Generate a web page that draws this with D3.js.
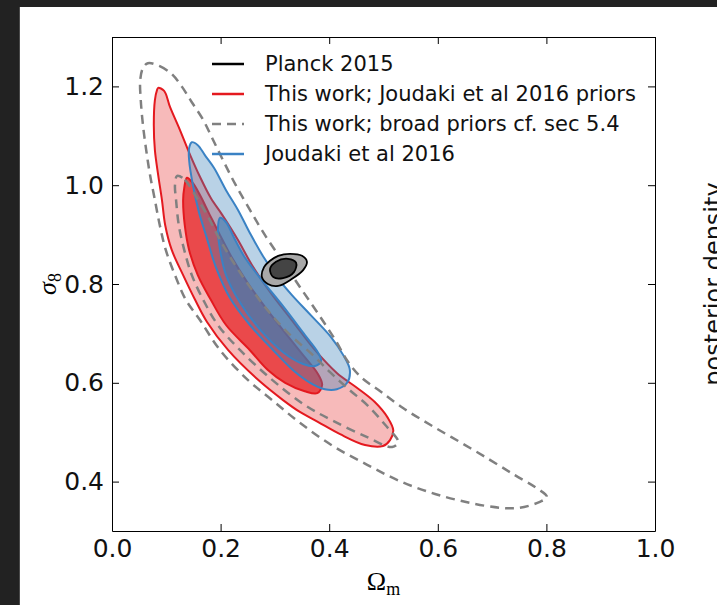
<!DOCTYPE html>
<html>
<head>
<meta charset="utf-8">
<script src="https://cdn.jsdelivr.net/npm/d3@7"></script>
<style>
  body { margin: 0; background: #fff; }
  svg { display: block; }
</style>
</head>
<body>
<div id="chart"></div>
<script>
// Contour outlines, as [Omega_m, sigma_8]
const planck2s = [[0.276,0.814],[0.280,0.834],[0.291,0.847],[0.306,0.857],[0.328,0.861],[0.350,0.857],
  [0.359,0.845],[0.352,0.828],[0.331,0.810],[0.306,0.796],[0.287,0.800]];
const planck1s = [[0.291,0.830],[0.302,0.845],[0.324,0.851],[0.339,0.843],[0.335,0.824],[0.315,0.812],[0.297,0.814]];

const thisWork2s = [[0.085,1.197],[0.096,1.191],[0.107,1.158],[0.125,1.112],[0.144,1.061],[0.162,1.017],
  [0.182,0.974],[0.203,0.940],[0.232,0.889],[0.258,0.838],[0.291,0.784],[0.331,0.727],[0.374,0.666],
  [0.414,0.620],[0.451,0.590],[0.484,0.561],[0.508,0.529],[0.518,0.504],[0.512,0.484],[0.499,0.472],
  [0.466,0.474],[0.420,0.496],[0.379,0.521],[0.346,0.541],[0.315,0.565],[0.269,0.606],[0.214,0.666],
  [0.175,0.723],[0.153,0.768],[0.131,0.818],[0.110,0.869],[0.098,0.919],[0.092,0.970],[0.085,1.021],
  [0.079,1.071],[0.077,1.122],[0.079,1.172],[0.083,1.193]];
const thisWork1s = [[0.138,1.015],[0.149,1.004],[0.162,0.980],[0.180,0.940],[0.199,0.899],[0.221,0.853],
  [0.250,0.802],[0.282,0.753],[0.319,0.701],[0.355,0.652],[0.378,0.620],[0.387,0.596],[0.378,0.579],
  [0.355,0.583],[0.319,0.600],[0.287,0.626],[0.254,0.666],[0.210,0.717],[0.182,0.768],[0.158,0.818],
  [0.142,0.869],[0.134,0.919],[0.131,0.970],[0.133,0.994]];

const broad2s = [[0.066,1.247],[0.088,1.241],[0.110,1.225],[0.129,1.199],[0.147,1.168],[0.168,1.132],
  [0.186,1.092],[0.206,1.047],[0.228,1.000],[0.254,0.950],[0.284,0.895],[0.315,0.845],[0.346,0.794],
  [0.379,0.741],[0.411,0.687],[0.435,0.642],[0.460,0.610],[0.494,0.583],[0.536,0.549],[0.586,0.515],
  [0.641,0.480],[0.696,0.444],[0.742,0.413],[0.779,0.389],[0.801,0.369],[0.788,0.359],[0.751,0.347],
  [0.715,0.347],[0.659,0.357],[0.595,0.375],[0.530,0.401],[0.470,0.434],[0.407,0.472],[0.346,0.519],
  [0.295,0.565],[0.250,0.606],[0.199,0.666],[0.162,0.727],[0.136,0.768],[0.116,0.818],[0.099,0.869],
  [0.088,0.919],[0.079,0.970],[0.070,1.021],[0.063,1.071],[0.057,1.122],[0.053,1.172],[0.052,1.213],
  [0.057,1.237]];
const broad1s = [[0.120,1.019],[0.134,1.011],[0.153,0.980],[0.175,0.940],[0.199,0.889],[0.227,0.838],
  [0.258,0.788],[0.291,0.741],[0.328,0.697],[0.370,0.656],[0.401,0.622],[0.438,0.585],[0.470,0.555],
  [0.503,0.515],[0.527,0.480],[0.516,0.470],[0.470,0.490],[0.407,0.523],[0.355,0.555],[0.295,0.606],
  [0.236,0.666],[0.195,0.717],[0.168,0.768],[0.147,0.818],[0.133,0.869],[0.123,0.919],[0.118,0.970],
  [0.116,1.000]];

const joudaki2s = [[0.147,1.087],[0.158,1.081],[0.171,1.061],[0.188,1.035],[0.210,0.990],[0.232,0.950],
  [0.256,0.899],[0.280,0.853],[0.304,0.814],[0.331,0.778],[0.366,0.737],[0.403,0.693],[0.427,0.654],
  [0.438,0.626],[0.433,0.600],[0.414,0.587],[0.392,0.587],[0.365,0.600],[0.333,0.626],[0.297,0.666],
  [0.254,0.717],[0.217,0.772],[0.192,0.832],[0.173,0.899],[0.160,0.946],[0.149,1.000],[0.142,1.051],
  [0.142,1.075]];
const joudaki1s = [[0.199,0.934],[0.210,0.925],[0.225,0.893],[0.245,0.853],[0.276,0.808],[0.315,0.755],
  [0.355,0.697],[0.379,0.662],[0.385,0.644],[0.374,0.634],[0.352,0.638],[0.315,0.662],[0.273,0.707],
  [0.236,0.762],[0.210,0.818],[0.199,0.869],[0.195,0.909]];

const xTicks = [0.0, 0.2, 0.4, 0.6, 0.8, 1.0];
const yTicks = [0.4, 0.6, 0.8, 1.0, 1.2];
const legendLabels = ["Planck 2015", "This work; Joudaki et al 2016 priors",
  "This work; broad priors cf. sec 5.4", "Joudaki et al 2016"];

const W = 717, H = 605;
const plot = { left: 112, right: 655, top: 37, bottom: 531 };

const svg = d3.select("#chart").append("svg")
    .attr("width", W)
    .attr("height", H);

// page background and the dark frame of the screenshot
svg.append("rect").attr("width", W).attr("height", H).attr("fill", "#fff");
svg.append("rect").attr("width", W).attr("height", 7).attr("fill", "#222");
svg.append("rect").attr("width", 20).attr("height", H).attr("fill", "#222");
svg.append("rect").attr("x", 19).attr("y", 7).attr("width", 1).attr("height", H).attr("fill", "#4a4a4a");

var x = d3.scaleLinear().domain([0, 1]).range([plot.left, plot.right]);
var y = d3.scaleLinear().domain([0.3, 1.3]).range([plot.bottom, plot.top]);

svg.append("clipPath").attr("id", "clip")
    .append("rect")
    .attr("x", plot.left).attr("y", plot.top)
    .attr("width", plot.right - plot.left).attr("height", plot.bottom - plot.top);

const contour = d3.line()
    .x(d => x(d[0]))
    .y(d => y(d[1]))
    .curve(d3.curveCatmullRomClosed.alpha(0.5));

var g = svg.append("g").attr("clip-path", "url(#clip)");

// This work, Joudaki priors (red)
g.append("path").attr("d", contour(thisWork2s))
    .attr("fill", "rgba(228,26,28,0.3)").attr("stroke", "#e4191f").attr("stroke-width", 2);
g.append("path").attr("d", contour(thisWork1s))
    .attr("fill", "rgba(228,26,28,0.7)").attr("stroke", "#e4191f").attr("stroke-width", 2);

// Joudaki et al 2016 (blue)
g.append("path").attr("d", contour(joudaki2s))
    .attr("fill", "rgba(55,126,184,0.35)").attr("stroke", "#3a82c4").attr("stroke-width", 2);
g.append("path").attr("d", contour(joudaki1s))
    .attr("fill", "rgba(55,126,184,0.6)").attr("stroke", "#3a82c4").attr("stroke-width", 2);

// This work, broad priors (dashed, no fill)
[broad2s, broad1s].forEach(c => {
    g.append("path").attr("d", contour(c))
        .attr("fill", "none").attr("stroke", "#808080").attr("stroke-width", 2.5)
        .attr("stroke-dasharray", "9,6");
});

// Planck 2015
g.append("path").attr("d", contour(planck2s))
    .attr("fill", "#a8a8a8").attr("stroke", "#000").attr("stroke-width", 1.8);
g.append("path").attr("d", contour(planck1s))
    .attr("fill", "#444").attr("stroke", "#000").attr("stroke-width", 1.8);

// Axes, ticks pointing inwards on all four sides
const fmt = d3.format(".1f");
function styleAxis(sel) {
    sel.selectAll("path, line").attr("stroke", "#000").attr("stroke-width", 1);
    sel.selectAll("text").attr("font-family", "DejaVu Sans").attr("font-size", 25).attr("fill", "#111");
}
svg.append("g")
    .attr("transform", "translate(0," + plot.bottom + ")")
    .call(d3.axisBottom(x).tickValues(xTicks).tickFormat(fmt).tickSize(-7).tickSizeOuter(0).tickPadding(8))
    .call(styleAxis);
svg.append("g")
    .attr("transform", "translate(0," + plot.top + ")")
    .call(d3.axisTop(x).tickValues(xTicks).tickFormat("").tickSize(-7).tickSizeOuter(0))
    .call(styleAxis);
svg.append("g")
    .attr("transform", "translate(" + plot.left + ",0)")
    .call(d3.axisLeft(y).tickValues(yTicks).tickFormat(fmt).tickSize(-7).tickSizeOuter(0).tickPadding(8))
    .call(styleAxis);
svg.append("g")
    .attr("transform", "translate(" + plot.right + ",0)")
    .call(d3.axisRight(y).tickValues(yTicks).tickFormat("").tickSize(-7).tickSizeOuter(0))
    .call(styleAxis);

// Axis labels
var xLabel = svg.append("text")
    .attr("x", (plot.left + plot.right) / 2)
    .attr("y", 590)
    .attr("text-anchor", "middle")
    .attr("font-family", "Liberation Serif")
    .attr("font-size", 26);
xLabel.append("tspan").text("Ω");
xLabel.append("tspan").attr("font-size", 18).attr("dy", 5).text("m");

var yLabel = svg.append("text")
    .attr("transform", "translate(56," + (plot.top + plot.bottom) / 2 + ") rotate(-90)")
    .attr("text-anchor", "middle")
    .attr("font-family", "Liberation Serif")
    .attr("font-size", 26);
yLabel.append("tspan").attr("font-style", "italic").text("σ");
yLabel.append("tspan").attr("font-size", 18).attr("dy", 5).text("8");

// cut-off label of the neighbouring panel
svg.append("text")
    .attr("transform", "translate(722," + (plot.top + plot.bottom) / 2 + ") rotate(-90)")
    .attr("text-anchor", "middle")
    .attr("font-family", "DejaVu Sans")
    .attr("font-size", 24)
    .attr("fill", "#111")
    .text("posterior density");

// Legend (no frame)
const legendStyles = [
    { stroke: "#000", dash: null },
    { stroke: "#e4191f", dash: null },
    { stroke: "#808080", dash: "9,6" },
    { stroke: "#3a82c4", dash: null }
];
var legend = svg.append("g");
legendLabels.forEach((label, i) => {
    const ly = 64 + i * 30;
    legend.append("line")
        .attr("x1", 212).attr("x2", 244).attr("y1", ly).attr("y2", ly)
        .attr("stroke", legendStyles[i].stroke).attr("stroke-width", 2.5)
        .attr("stroke-dasharray", legendStyles[i].dash);
    legend.append("text")
        .attr("x", 265).attr("y", ly).attr("dy", "0.35em")
        .attr("font-family", "DejaVu Sans").attr("font-size", 21).attr("fill", "#111")
        .text(label);
});
</script>
</body>
</html>
